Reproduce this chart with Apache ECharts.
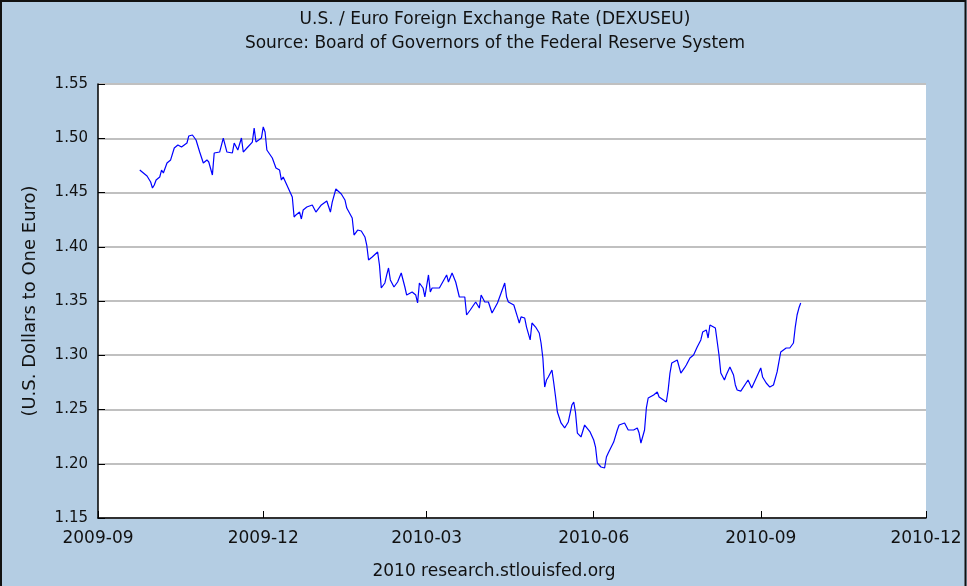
<!DOCTYPE html>
<html>
<head>
<meta charset="utf-8">
<script src="https://cdn.jsdelivr.net/npm/echarts@6/dist/echarts.min.js"></script>
<style>
html,body{margin:0;padding:0;background:#b4cde3;}
#chart{width:967px;height:586px;}
</style>
</head>
<body>
<div id="chart"></div>
<script>
var titleText = 'U.S. / Euro Foreign Exchange Rate (DEXUSEU)';
var subtitleText = 'Source: Board of Governors of the Federal Reserve System';
var yAxisName = '(U.S. Dollars to One Euro)';
var footerText = '2010 research.stlouisfed.org';

var xTickLabels = ['2009-09', '2009-12', '2010-03', '2010-06', '2010-09', '2010-12'];

var dates = [
  '2009-09-24','2009-09-28','2009-09-30',
  '2009-10-01','2009-10-02','2009-10-03','2009-10-05','2009-10-06','2009-10-07','2009-10-09','2009-10-11','2009-10-13','2009-10-15','2009-10-17','2009-10-20','2009-10-21','2009-10-23','2009-10-25','2009-10-27','2009-10-29','2009-10-31',
  '2009-11-01','2009-11-03','2009-11-04','2009-11-07','2009-11-09','2009-11-11','2009-11-14','2009-11-15','2009-11-17','2009-11-19','2009-11-20','2009-11-22','2009-11-25','2009-11-26','2009-11-27','2009-11-30',
  '2009-12-01','2009-12-02','2009-12-03','2009-12-06','2009-12-08','2009-12-10','2009-12-11','2009-12-12','2009-12-14','2009-12-15','2009-12-17','2009-12-18','2009-12-19','2009-12-21','2009-12-22','2009-12-23','2009-12-25','2009-12-28','2009-12-30',
  '2010-01-02','2010-01-05','2010-01-07','2010-01-08','2010-01-10','2010-01-13','2010-01-15','2010-01-16','2010-01-19','2010-01-20','2010-01-22','2010-01-24','2010-01-26','2010-01-27','2010-01-28','2010-01-30',
  '2010-02-02','2010-02-03','2010-02-04','2010-02-06','2010-02-07','2010-02-08','2010-02-09','2010-02-11','2010-02-13','2010-02-15','2010-02-17','2010-02-18','2010-02-21','2010-02-23','2010-02-24','2010-02-25','2010-02-27','2010-02-28',
  '2010-03-02','2010-03-03','2010-03-04','2010-03-08','2010-03-12','2010-03-13','2010-03-15','2010-03-17','2010-03-19','2010-03-22','2010-03-23','2010-03-25','2010-03-28','2010-03-30','2010-03-31',
  '2010-04-02','2010-04-04','2010-04-06','2010-04-07','2010-04-09','2010-04-11','2010-04-13','2010-04-14','2010-04-15','2010-04-18','2010-04-20','2010-04-21','2010-04-22','2010-04-24','2010-04-25','2010-04-27','2010-04-28','2010-04-30',
  '2010-05-02','2010-05-03','2010-05-04','2010-05-05','2010-05-06','2010-05-07','2010-05-09','2010-05-10','2010-05-11','2010-05-12','2010-05-14','2010-05-16','2010-05-17','2010-05-18','2010-05-20','2010-05-21','2010-05-22','2010-05-23','2010-05-25','2010-05-27','2010-05-28','2010-05-30',
  '2010-06-01','2010-06-02','2010-06-03','2010-06-05','2010-06-07','2010-06-08','2010-06-09','2010-06-10','2010-06-12','2010-06-14','2010-06-15','2010-06-18','2010-06-19','2010-06-20','2010-06-23','2010-06-25','2010-06-26','2010-06-27','2010-06-29','2010-06-30',
  '2010-07-01','2010-07-04','2010-07-06','2010-07-07','2010-07-08','2010-07-11','2010-07-12','2010-07-13','2010-07-14','2010-07-17','2010-07-18','2010-07-19','2010-07-21','2010-07-22','2010-07-24','2010-07-26','2010-07-28','2010-07-30','2010-07-31',
  '2010-08-02','2010-08-03','2010-08-04','2010-08-07','2010-08-08','2010-08-09','2010-08-10','2010-08-12','2010-08-13','2010-08-15','2010-08-17','2010-08-18','2010-08-19','2010-08-21','2010-08-22','2010-08-25','2010-08-27','2010-08-29',
  '2010-09-01','2010-09-02','2010-09-04','2010-09-06','2010-09-08','2010-09-10','2010-09-11','2010-09-12','2010-09-15','2010-09-17','2010-09-19','2010-09-20','2010-09-21','2010-09-22','2010-09-23'
];

var rates = [
  1.4707,1.4652,1.4597,
  1.4541,1.4569,1.4615,1.4643,1.4707,1.4680,1.4772,1.4800,1.4910,1.4938,1.4919,1.4956,1.5021,1.5030,1.4984,1.4873,1.4772,1.4800,
  1.4781,1.4661,1.4864,1.4873,1.5002,1.4873,1.4864,1.4956,1.4892,1.5002,1.4873,1.4910,1.4965,1.5094,1.4965,1.5002,
  1.5104,1.5058,1.4892,1.4818,1.4726,1.4707,1.4615,1.4643,1.4569,1.4551,1.4459,1.4274,1.4293,1.4320,1.4256,1.4339,1.4366,1.4385,1.4320,
  1.4385,1.4422,1.4320,1.4412,1.4532,1.4486,1.4431,1.4357,1.4265,1.4108,1.4154,1.4145,1.4090,1.4016,1.3878,1.3906,
  1.3952,1.3832,1.3620,1.3666,1.3740,1.3804,1.3694,1.3629,1.3675,1.3758,1.3629,1.3555,1.3583,1.3555,1.3482,1.3666,1.3620,1.3537,
  1.3740,1.3583,1.3620,1.3620,1.3740,1.3675,1.3758,1.3675,1.3537,1.3537,1.3371,1.3417,1.3491,1.3435,1.3555,
  1.3491,1.3491,1.3389,1.3371,1.3482,1.3574,1.3666,1.3537,1.3491,1.3463,1.3353,1.3297,1.3353,1.3343,1.3260,1.3141,1.3297,1.3260,
  1.3205,1.3113,1.2975,1.2707,1.2772,1.2800,1.2864,1.2744,1.2615,1.2477,1.2376,1.2330,1.2339,1.2385,1.2542,1.2569,1.2468,1.2283,1.2247,1.2357,1.2339,1.2293,
  1.2219,1.2154,1.2007,1.1970,1.1961,1.2062,1.2099,1.2081,1.2200,1.2311,1.2357,1.2376,1.2376,1.2311,1.2311,1.2330,1.2283,1.2191,1.2311,1.2514,
  1.2606,1.2634,1.2661,1.2615,1.2606,1.2569,1.2680,1.2836,1.2929,1.2956,1.2956,1.2836,1.2883,1.2910,1.2975,1.3002,1.3076,1.3141,1.3214,
  1.3233,1.3159,1.3279,1.3251,1.3233,1.3002,1.2836,1.2772,1.2818,1.2892,1.2818,1.2726,1.2680,1.2670,1.2661,1.2772,1.2698,1.2772,
  1.2883,1.2800,1.2744,1.2707,1.2726,1.2846,1.2938,1.3030,1.3067,1.3067,1.3113,1.3260,1.3371,1.3435,1.3482
];

function parseYM(s) {
  var p = s.split('-');
  return Date.UTC(+p[0], +p[1] - 1, 1);
}
function parseYMD(s) {
  var p = s.split('-');
  return Date.UTC(+p[0], +p[1] - 1, +p[2]);
}

var tickValues = xTickLabels.map(parseYM);
var seriesData = dates.map(function (d, i) { return [parseYMD(d), rates[i]]; });

var FONT = 'DejaVu Sans';
var TXT = '#111111';

function centeredText(str, x, y, size) {
  return {
    type: 'text', x: x, y: y, silent: true, z: 50,
    style: { text: str, fontFamily: FONT, fontSize: size, fill: TXT, align: 'center', verticalAlign: 'middle' }
  };
}

var chart = echarts.init(document.getElementById('chart'), null, { renderer: 'canvas' });
chart.setOption({
  animation: false,
  backgroundColor: '#b4cde3',
  grid: { left: 98, right: 41, top: 84, bottom: 68, show: true, backgroundColor: '#ffffff', borderWidth: 0 },
  xAxis: {
    type: 'value',
    min: tickValues[0],
    max: tickValues[tickValues.length - 1],
    axisLine: { show: true, lineStyle: { color: '#000', width: 1.5 } },
    axisTick: { show: true, inside: true, length: 7, customValues: tickValues, lineStyle: { color: '#000', width: 1 } },
    axisLabel: {
      customValues: tickValues,
      hideOverlap: false,
      showMinLabel: true,
      showMaxLabel: true,
      margin: 12,
      fontFamily: FONT, fontSize: 17, color: TXT,
      formatter: function (v) {
        var idx = tickValues.indexOf(v);
        return idx >= 0 ? xTickLabels[idx] : '';
      }
    },
    splitLine: { show: false }
  },
  yAxis: {
    type: 'value',
    min: 1.15,
    max: 1.55,
    interval: 0.05,
    name: yAxisName,
    nameLocation: 'middle',
    nameRotate: 90,
    nameGap: 59,
    nameTextStyle: { fontFamily: FONT, fontSize: 18, color: TXT },
    axisLine: { show: true, lineStyle: { color: '#000', width: 1.5 } },
    axisTick: { show: true, inside: true, length: 7, lineStyle: { color: '#000', width: 1 } },
    axisLabel: {
      margin: 10,
      fontFamily: FONT, fontSize: 15, color: TXT,
      formatter: function (v) { return v.toFixed(2); }
    },
    splitLine: { show: true, lineStyle: { color: '#c0c0c0', width: 2 } }
  },
  series: [{
    type: 'line',
    data: seriesData,
    showSymbol: false,
    symbol: 'none',
    lineStyle: { color: '#0000ff', width: 1.2 },
    z: 5
  }],
  graphic: [
    centeredText(titleText, 495, 20, 17),
    centeredText(subtitleText, 495, 44, 17),
    centeredText(footerText, 494, 572, 17),
    {
      type: 'polyline',
      shape: { points: [[1, 586], [1, 1], [965.5, 1], [965.5, 586]] },
      style: { stroke: '#111', lineWidth: 2, fill: null },
      silent: true,
      z: 100
    }
  ]
});
</script>
</body>
</html>
